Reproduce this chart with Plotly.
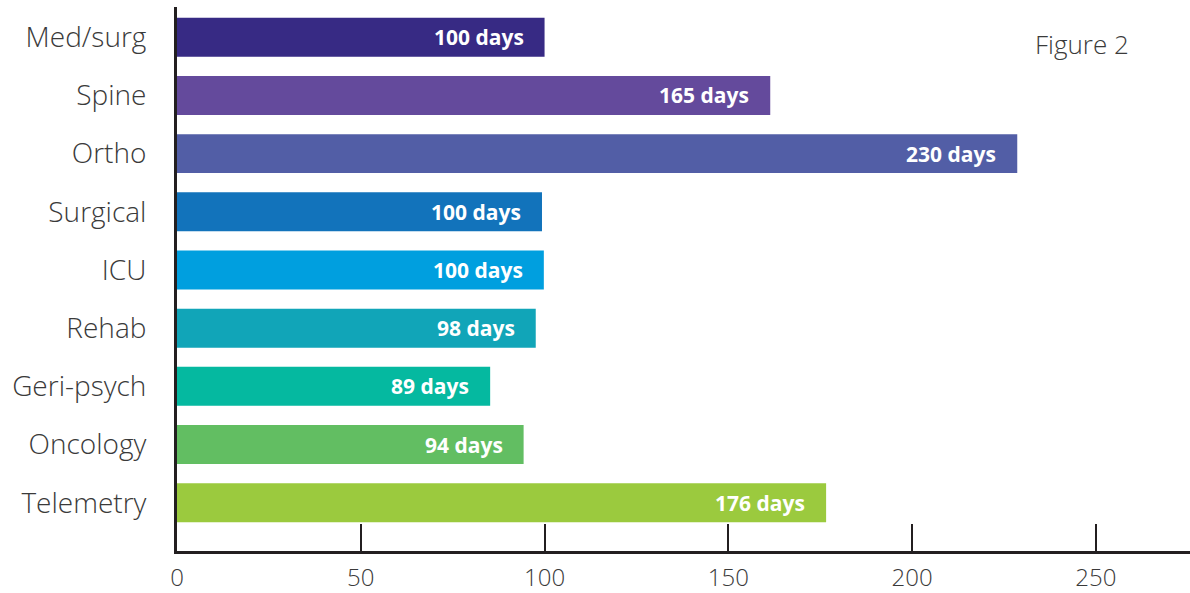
import plotly.graph_objects as go

categories = ["Med/surg", "Spine", "Ortho", "Surgical", "ICU", "Rehab", "Geri-psych", "Oncology", "Telemetry"]
bar_values = [100.0, 161.4, 228.6, 99.3, 99.8, 97.6, 85.2, 94.3, 176.6]
bar_labels = ["100 days", "165 days", "230 days", "100 days", "100 days", "98 days", "89 days", "94 days", "176 days"]
bar_colors = ["#372a84", "#644a9c", "#525ea6", "#1273bb", "#009fdf", "#11a5b8", "#05b9a0", "#62be62", "#9bca3e"]
x_ticks = [0, 50, 100, 150, 200, 250]

fig = go.Figure()
fig.add_trace(go.Bar(
    y=categories, x=bar_values, orientation="h",
    marker=dict(color=bar_colors, line=dict(width=0)),
    hoverinfo="skip",
))

for cat, val, lab in zip(categories, bar_values, bar_labels):
    fig.add_annotation(
        x=val, y=cat, text=lab, showarrow=False,
        xanchor="right", yanchor="middle", xshift=-19,
        font=dict(family="Open Sans", size=21, color="white", weight="bold"),
    )

fig.add_annotation(
    xref="paper", yref="paper", x=(1033 - 177) / 1013, y=1 - (44 - 7) / 546,
    text="Figure 2", showarrow=False, xanchor="left", yanchor="middle",
    font=dict(family="Open Sans", size=26, color="#3a3a3a", weight=300),
)

fig.update_layout(
    width=1190, height=593,
    margin=dict(l=177, r=0, t=7, b=40),
    plot_bgcolor="white", paper_bgcolor="white",
    bargap=0.33, showlegend=False,
    xaxis=dict(
        range=[0, 275.6], tickvals=x_ticks, ticks="inside", ticklen=27, tickwidth=2,
        tickcolor="#231f20", showline=True, linecolor="#231f20", linewidth=3,
        showgrid=False, zeroline=False, ticklabelstandoff=3,
        tickfont=dict(family="Open Sans", size=24, color="#3a3a3a", weight=300),
    ),
    yaxis=dict(
        type="category", categoryorder="array", categoryarray=categories,
        range=[8.83, -0.52], showline=True, linecolor="#231f20", linewidth=3,
        showgrid=False, zeroline=False, ticks="", ticklabelstandoff=22,
        tickfont=dict(family="Open Sans", size=28, color="#3a3a3a", weight=300),
    ),
)

fig.write_html(
    "out.html",
    config={"displayModeBar": False},
    post_script="document.body.style.margin='0';document.body.style.overflow='hidden';",
)
